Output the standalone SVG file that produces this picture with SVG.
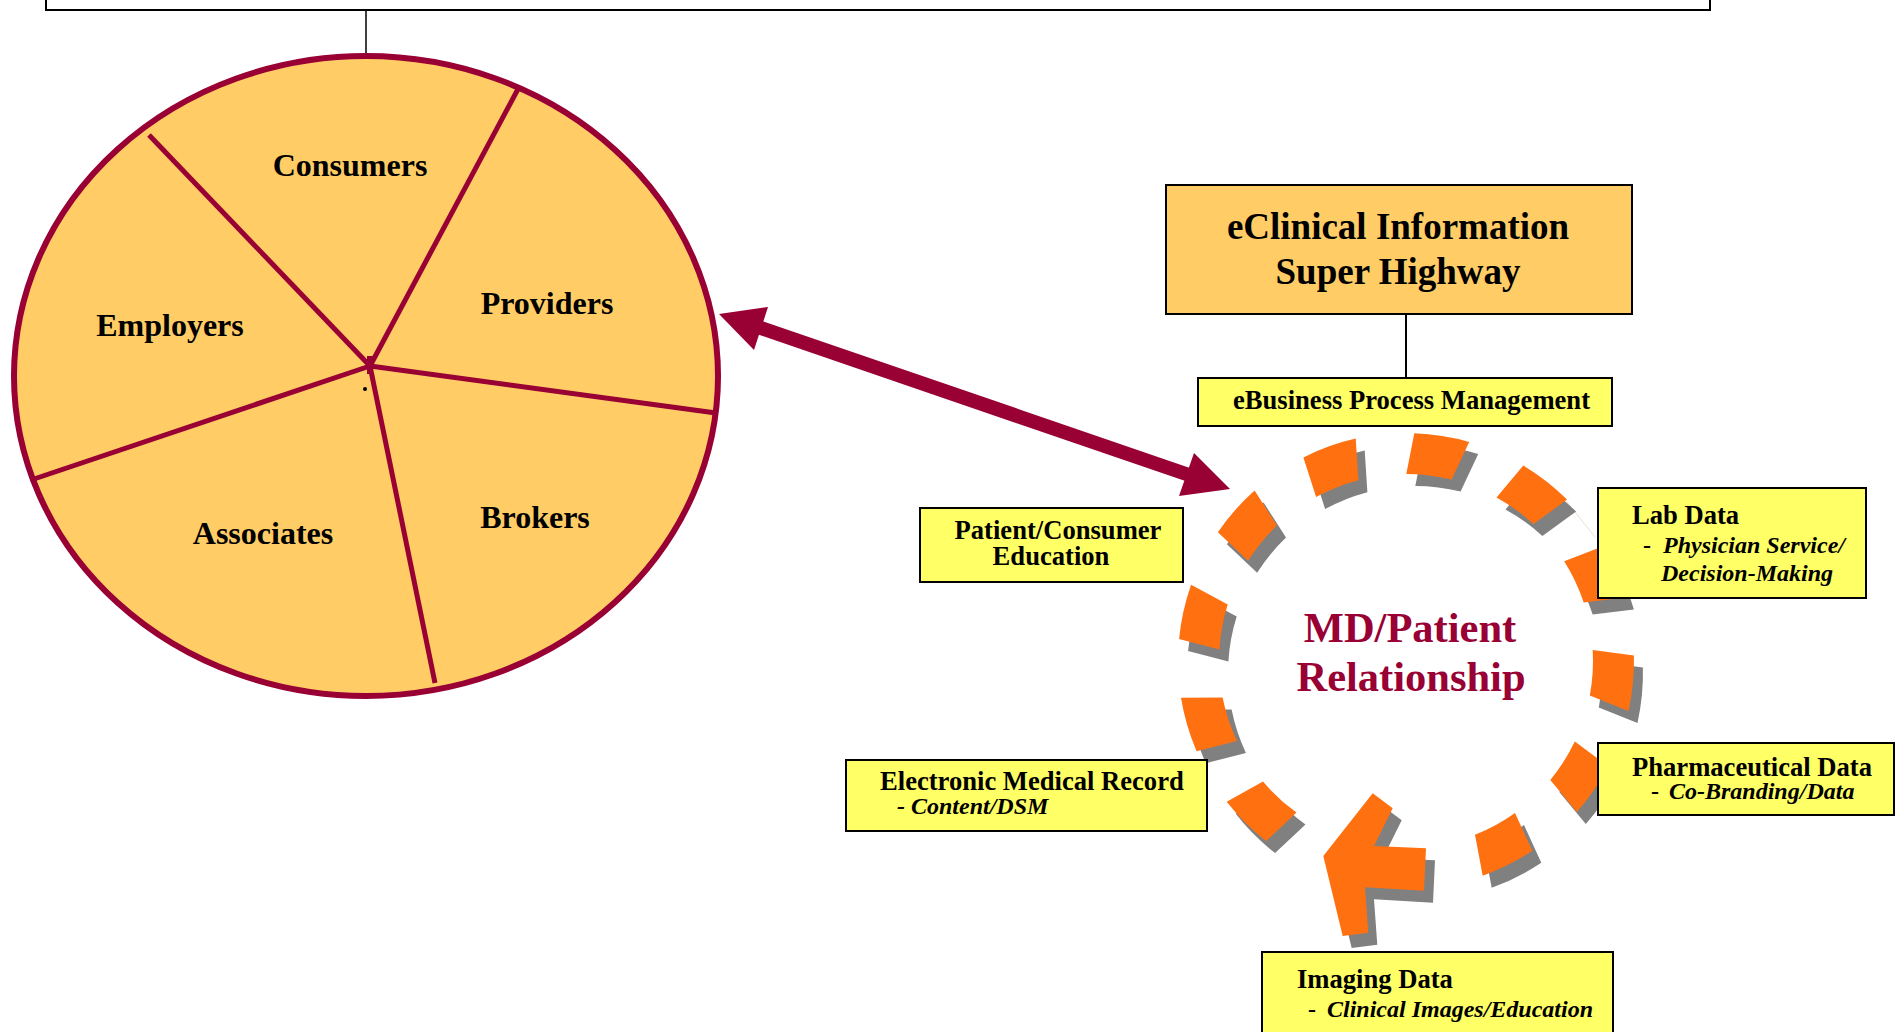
<svg xmlns="http://www.w3.org/2000/svg" xmlns:xlink="http://www.w3.org/1999/xlink" width="1900" height="1032" viewBox="0 0 1900 1032">
<style>
  .lbl { font-family: "Liberation Serif", "Times New Roman", serif; font-weight: bold; fill: #000; }
  .it { font-style: italic; }
  .box { stroke: #000; stroke-width: 2; }
  .yel { fill: #FFFF66; }
  .gold { fill: #FFCC66; }
  .spoke { stroke: #990033; stroke-width: 5; fill: none; stroke-linecap: butt; }
  .conn { stroke: #000; fill: none; }
</style>
<defs>
  <g id="ring">
    <path d="M1217.9,532.2 A228,228 0 0 1 1254.6,490.5 L1277.0,525.6 A187,187 0 0 0 1248.1,560.8 Z"/>
    <path d="M1303.4,457.4 A228,228 0 0 1 1355.7,438.6 L1358.4,480.2 A187,187 0 0 0 1316.1,497.1 Z"/>
    <path d="M1414.3,433.2 A228,228 0 0 1 1469.2,441.9 L1451.6,479.6 A187,187 0 0 0 1406.3,474.0 Z"/>
    <path d="M1523.3,465.5 A228,228 0 0 1 1567.1,499.6 L1533.4,524.1 A187,187 0 0 0 1496.5,497.4 Z"/>
    <path d="M1603.1,546.3 A228,228 0 0 1 1624.9,597.4 L1583.7,602.6 A187,187 0 0 0 1564.2,561.3 Z"/>
    <path d="M1633.9,655.6 A228,228 0 0 1 1628.5,710.9 L1589.8,695.6 A187,187 0 0 0 1592.7,650.1 Z"/>
    <path d="M1608.2,766.3 A228,228 0 0 1 1576.8,812.1 L1550.3,780.0 A187,187 0 0 0 1574.8,741.5 Z"/>
    <path d="M1532.3,850.8 A228,228 0 0 1 1482.7,875.7 L1475.0,834.8 A187,187 0 0 0 1515.0,813.0 Z"/>
    <polygon points="1372.7,793.3 1392.7,808.3 1374,846 1426,848.3 1424,890.7 1365,887.3 1368.3,932.7 1342.7,936 1323.3,856"/>
    <path d="M1266.1,841.1 A228,228 0 0 1 1226.7,801.8 L1263.0,781.6 A187,187 0 0 0 1296.5,812.6 Z"/>
    <path d="M1196.6,751.2 A228,228 0 0 1 1181.0,697.8 L1222.6,697.6 A187,187 0 0 0 1236.9,740.9 Z"/>
    <path d="M1179.1,639.0 A228,228 0 0 1 1191.1,584.7 L1227.7,604.6 A187,187 0 0 0 1219.4,649.4 Z"/>
  </g>
</defs>

<!-- connectors -->
<g id="connectors">
  <line class="conn" x1="366" y1="10" x2="366" y2="55" stroke-width="1.5"/>
  <line class="conn" x1="1406" y1="314" x2="1406" y2="378" stroke-width="2"/>
  <line x1="755" y1="326" x2="1192" y2="476" stroke="#990033" stroke-width="14"/>
  <polygon points="719,314 768,307 754,350" fill="#990033"/>
  <polygon points="1230,489 1194,453 1179,496" fill="#990033"/>
  <line x1="1567" y1="502" x2="1595" y2="537" stroke="#f0dcd2" stroke-width="1"/>
</g>

<!-- top frame -->
<g id="top-box">
  <rect x="46" y="-20" width="1664" height="30" fill="#fff" stroke="#000" stroke-width="2"/>
</g>

<!-- pie -->
<g id="pie">
  <ellipse cx="366" cy="376" rx="352" ry="320" fill="#FFCC66" stroke="#990033" stroke-width="6"/>
  <line class="spoke" x1="370" y1="366" x2="518" y2="89"/>
  <line class="spoke" x1="370" y1="366" x2="149" y2="135"/>
  <line class="spoke" x1="370" y1="366" x2="716" y2="413"/>
  <line class="spoke" x1="370" y1="366" x2="34" y2="479"/>
  <line class="spoke" x1="370" y1="366" x2="435" y2="683"/>
  <rect x="367" y="356" width="6" height="18" fill="#990033"/>
  <circle cx="365" cy="389" r="2" fill="#000"/>
  <text class="lbl" font-size="32" x="350" y="176" text-anchor="middle">Consumers</text>
  <text class="lbl" font-size="32" x="547" y="314" text-anchor="middle">Providers</text>
  <text class="lbl" font-size="32" x="170" y="336" text-anchor="middle">Employers</text>
  <text class="lbl" font-size="32" x="263" y="544" text-anchor="middle">Associates</text>
  <text class="lbl" font-size="32" x="535" y="528" text-anchor="middle">Brokers</text>
</g>

<!-- eClinical -->
<g id="eclinical">
  <rect class="box gold" x="1166" y="185" width="466" height="129"/>
  <text class="lbl" font-size="37" x="1398" y="239" text-anchor="middle">eClinical Information</text>
  <text class="lbl" font-size="37" x="1398" y="284" text-anchor="middle">Super Highway</text>
</g>

<g id="ebusiness">
  <rect class="box yel" x="1198" y="378" width="414" height="48"/>
  <text class="lbl" font-size="26.6" x="1233" y="409">eBusiness Process Management</text>
</g>

<!-- ring -->
<g id="md-patient">
  <use xlink:href="#ring" href="#ring" fill="#808080" transform="translate(9,12)"/>
  <use xlink:href="#ring" href="#ring" fill="#FF7010"/>
  <text class="lbl" font-size="42.5" x="1410" y="642" text-anchor="middle" style="fill:#990033">MD/Patient</text>
  <text class="lbl" font-size="42.5" x="1411" y="691" text-anchor="middle" style="fill:#990033">Relationship</text>
</g>

<g id="lab-data">
  <rect class="box yel" x="1598" y="488" width="268" height="110"/>
  <text class="lbl" font-size="26.6" x="1632" y="524">Lab Data</text>
  <text class="lbl" font-size="24" x="1643" y="553">-</text>
  <text class="lbl it" font-size="24" x="1663" y="553">Physician Service/</text>
  <text class="lbl it" font-size="24" x="1661" y="581">Decision-Making</text>
</g>

<g id="patient-consumer">
  <rect class="box yel" x="920" y="508" width="263" height="74"/>
  <text class="lbl" font-size="26.6" x="1058" y="539" text-anchor="middle">Patient/Consumer</text>
  <text class="lbl" font-size="26.6" x="1051" y="565" text-anchor="middle">Education</text>
</g>

<g id="emr">
  <rect class="box yel" x="846" y="760" width="361" height="71"/>
  <text class="lbl" font-size="26.6" x="880" y="790">Electronic Medical Record</text>
  <text class="lbl it" font-size="24" x="897" y="814">- Content/DSM</text>
</g>

<g id="pharma">
  <rect class="box yel" x="1598" y="743" width="296" height="72"/>
  <text class="lbl" font-size="26.6" x="1632" y="776">Pharmaceutical Data</text>
  <text class="lbl" font-size="24" x="1651" y="799">-</text>
  <text class="lbl it" font-size="24" x="1669" y="799">Co-Branding/Data</text>
</g>

<g id="imaging">
  <rect class="box yel" x="1262" y="952" width="351" height="100"/>
  <text class="lbl" font-size="26.6" x="1297" y="988">Imaging Data</text>
  <text class="lbl" font-size="24" x="1308" y="1017">-</text>
  <text class="lbl it" font-size="24" x="1327" y="1017">Clinical Images/Education</text>
</g>
</svg>
